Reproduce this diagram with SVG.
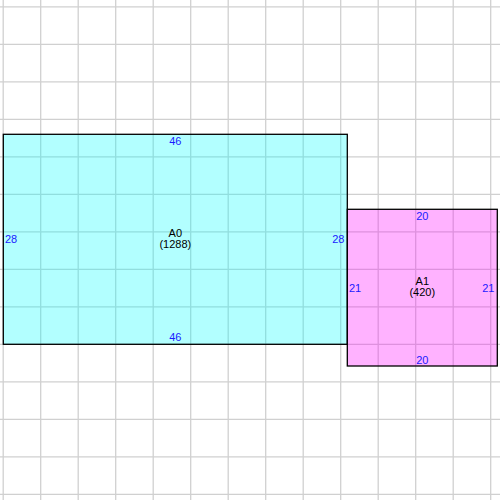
<svg xmlns="http://www.w3.org/2000/svg" width="500" height="500" viewBox="0 0 500 500">
<style>
.grid line{stroke:#d0d0d0;stroke-width:1.3}
.box{stroke:#000;stroke-width:1.3;fill-opacity:0.3}
text{font-family:"Liberation Sans",Arial,sans-serif;font-size:11px}
.dim{fill:#1a1aff}
.name{fill:#000;text-anchor:middle}
.c{text-anchor:middle}
.e{text-anchor:end}
</style>
<rect width="500" height="500" fill="#fff"/>
<g class="grid">
<line x1="3.2" y1="0" x2="3.2" y2="500"/>
<line x1="40.7" y1="0" x2="40.7" y2="500"/>
<line x1="78.2" y1="0" x2="78.2" y2="500"/>
<line x1="115.7" y1="0" x2="115.7" y2="500"/>
<line x1="153.2" y1="0" x2="153.2" y2="500"/>
<line x1="190.7" y1="0" x2="190.7" y2="500"/>
<line x1="228.2" y1="0" x2="228.2" y2="500"/>
<line x1="265.7" y1="0" x2="265.7" y2="500"/>
<line x1="303.2" y1="0" x2="303.2" y2="500"/>
<line x1="340.7" y1="0" x2="340.7" y2="500"/>
<line x1="378.2" y1="0" x2="378.2" y2="500"/>
<line x1="415.7" y1="0" x2="415.7" y2="500"/>
<line x1="453.2" y1="0" x2="453.2" y2="500"/>
<line x1="490.7" y1="0" x2="490.7" y2="500"/>
<line x1="0" y1="6.8" x2="500" y2="6.8"/>
<line x1="0" y1="44.3" x2="500" y2="44.3"/>
<line x1="0" y1="81.8" x2="500" y2="81.8"/>
<line x1="0" y1="119.3" x2="500" y2="119.3"/>
<line x1="0" y1="156.8" x2="500" y2="156.8"/>
<line x1="0" y1="194.3" x2="500" y2="194.3"/>
<line x1="0" y1="231.8" x2="500" y2="231.8"/>
<line x1="0" y1="269.3" x2="500" y2="269.3"/>
<line x1="0" y1="306.8" x2="500" y2="306.8"/>
<line x1="0" y1="344.3" x2="500" y2="344.3"/>
<line x1="0" y1="381.8" x2="500" y2="381.8"/>
<line x1="0" y1="419.3" x2="500" y2="419.3"/>
<line x1="0" y1="456.8" x2="500" y2="456.8"/>
<line x1="0" y1="494.3" x2="500" y2="494.3"/>
</g>
<g id="A0">
<rect class="box" x="3.3" y="134.3" width="344" height="210" fill="#00ffff"/>
<text class="dim c" x="175.3" y="145">46</text>
<text class="dim c" x="175.3" y="341">46</text>
<text class="dim" x="5" y="243">28</text>
<text class="dim e" x="344.5" y="243">28</text>
<text class="name" x="175.3" y="237">A0</text>
<text class="name" x="175.3" y="248">(1288)</text>
</g>
<g id="A1">
<rect class="box" x="347.3" y="209.3" width="150" height="156.7" fill="#ff00ff"/>
<text class="dim c" x="422.3" y="220">20</text>
<text class="dim c" x="422.3" y="364">20</text>
<text class="dim" x="349" y="292">21</text>
<text class="dim e" x="494.5" y="292">21</text>
<text class="name" x="422.3" y="284.5">A1</text>
<text class="name" x="422.3" y="295.5">(420)</text>
</g>
<g id="connectors"/>
</svg>
